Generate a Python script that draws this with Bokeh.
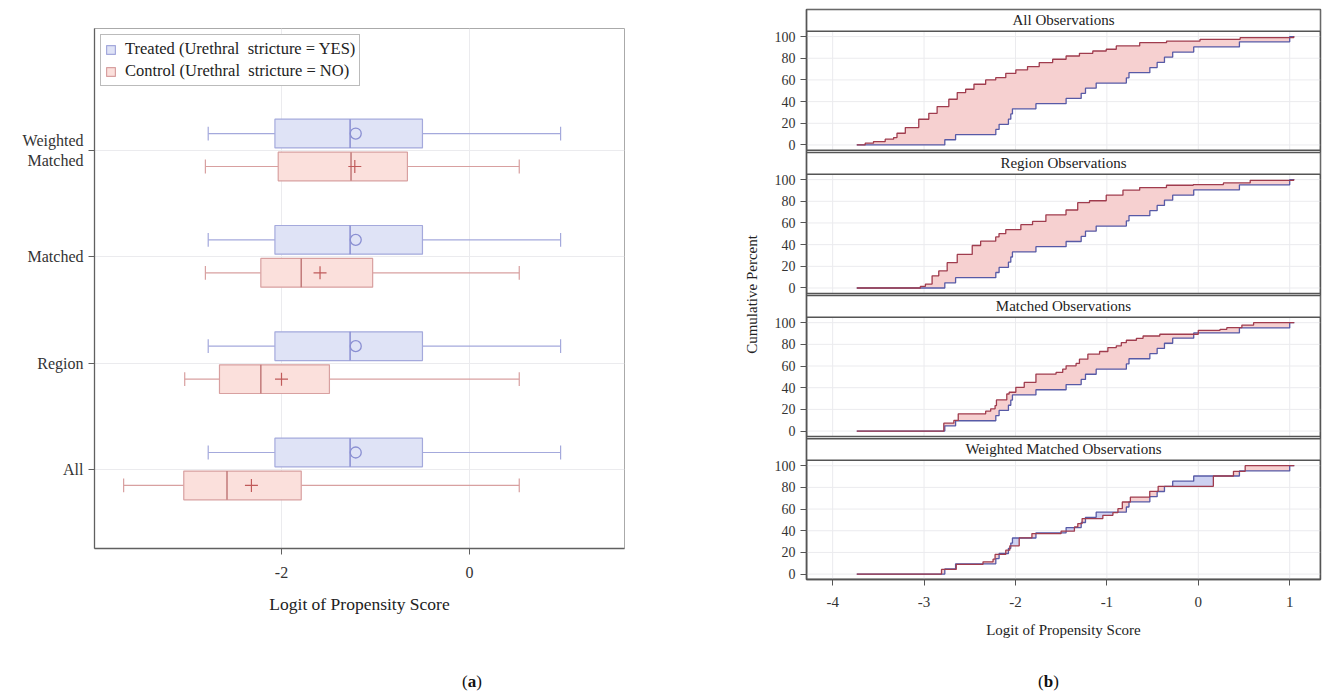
import numpy as np
from bokeh.plotting import figure
from bokeh.models import Range1d, FixedTicker, Legend, LegendItem, Div
from bokeh.layouts import row, column
from bokeh.embed import file_html
from bokeh.resources import INLINE
from bokeh.core.properties import value

SERIF = "Liberation Serif"

# ---------------- (a) box-plot summaries: All, Region, Matched, Weighted Matched ----------------
groups = ["All", "Region", "Matched", "Weighted\nMatched"]
trt_lo = [-2.78, -2.78, -2.78, -2.78]
trt_q1 = [-2.07, -2.07, -2.07, -2.07]
trt_med = [-1.27, -1.27, -1.27, -1.27]
trt_mean = [-1.21, -1.21, -1.21, -1.21]
trt_q3 = [-0.50, -0.50, -0.50, -0.50]
trt_hi = [0.97, 0.97, 0.97, 0.97]
ctl_lo = [-3.68, -3.03, -2.81, -2.81]
ctl_q1 = [-3.04, -2.66, -2.22, -2.035]
ctl_med = [-2.58, -2.22, -1.79, -1.26]
ctl_mean = [-2.32, -2.00, -1.59, -1.22]
ctl_q3 = [-1.79, -1.49, -1.03, -0.66]
ctl_hi = [0.53, 0.53, 0.53, 0.53]
legend_labels = ["Treated (Urethral  stricture = YES)", "Control (Urethral  stricture = NO)"]
x_ticks_a = [-2, 0]

# ---------------- (b) cumulative distributions ----------------
panel_titles = ["All Observations", "Region Observations", "Matched Observations",
                "Weighted Matched Observations"]
x_start, x_end = -3.736, 1.05
trt_x = [-2.773, -2.655, -2.215, -2.179, -2.077, -2.051, -2.033, -1.776, -1.446, -1.281, -1.234,
         -1.117, -0.787, -0.758, -0.530, -0.450, -0.370, -0.280, -0.050, 0.450, 1.000]
trt_y = [4.8, 9.5, 14.3, 19.0, 23.8, 28.6, 33.3, 38.1, 42.9, 47.6, 52.4,
         57.1, 61.9, 66.7, 71.4, 76.2, 81.0, 85.7, 90.5, 95.2, 100.0]
ctl_all_x = [-3.644, -3.553, -3.425, -3.333, -3.296, -3.205, -3.058, -2.948, -2.857, -2.729, -2.637,
             -2.545, -2.454, -2.326, -2.216, -2.106, -1.996, -1.868, -1.740, -1.593, -1.446, -1.300,
             -1.154, -1.007, -0.897, -0.641, -0.347, 0.019, 0.458, 1.044]
ctl_all_y = [1.6, 3.1, 5.3, 6.8, 10.8, 16.0, 23.7, 29.2, 35.4, 42.2, 48.3,
             51.4, 56.0, 60.0, 62.1, 66.1, 69.2, 72.3, 76.0, 79.1, 82.1, 84.6,
             86.7, 88.3, 91.4, 94.4, 95.9, 97.5, 99.0, 100.0]
ctl_region_x = [-3.040, -2.985, -2.912, -2.839, -2.747, -2.637, -2.473, -2.381, -2.216, -2.180, -2.106,
                -1.941, -1.813, -1.667, -1.447, -1.319, -1.190, -1.007, -0.824, -0.641, -0.348,
                -0.055, 0.275, 0.568, 1.044]
ctl_region_y = [1.5, 3.6, 11.2, 15.8, 23.4, 31.0, 39.2, 43.2, 47.1, 50.2, 53.8,
                58.4, 61.4, 67.5, 72.0, 78.7, 80.5, 85.7, 90.3, 92.7, 94.8,
                95.4, 97.0, 99.4, 100.0]
ctl_matched_x = [-2.784, -2.674, -2.626, -2.326, -2.271, -2.223, -2.208, -2.095, -2.069, -1.996, -1.904,
                 -1.776, -1.556, -1.483, -1.446, -1.337, -1.300, -1.208, -1.080, -0.989, -0.897,
                 -0.842, -0.787, -0.677, -0.604, -0.421, 0.000, 0.238, 0.312, 0.477, 0.605]
ctl_matched_y = [7.3, 9.8, 15.9, 18.3, 20.5, 23.5, 28.7, 34.2, 35.8, 40.3, 44.9,
                 52.6, 54.1, 57.2, 60.2, 62.4, 66.3, 70.9, 73.4, 77.0, 78.6,
                 81.6, 83.8, 85.6, 87.7, 89.3, 92.9, 93.9, 95.4, 97.8, 100.0]
ctl_weighted_x = [-2.809, -2.648, -2.355, -2.245, -2.223, -2.106, -2.062, -1.959, -1.820, -1.501, -1.355,
                  -1.318, -1.271, -1.044, -0.934, -0.879, -0.831, -0.743, -0.531, -0.439, 0.165,
                  0.385, 0.513]
ctl_weighted_y = [4.3, 9.0, 11.3, 13.8, 18.1, 22.1, 26.1, 33.4, 37.4, 39.6, 43.5,
                  46.6, 51.2, 54.2, 56.7, 60.4, 66.5, 71.1, 76.4, 81.0, 90.5,
                  94.8, 100.0]
ctl_panels = [(ctl_all_x, ctl_all_y), (ctl_region_x, ctl_region_y),
              (ctl_matched_x, ctl_matched_y), (ctl_weighted_x, ctl_weighted_y)]
pct_ticks = [0, 20, 40, 60, 80, 100]
x_ticks_b = [-4, -3, -2, -1, 0, 1]

# ---------------- styles ----------------
T_FILL, T_LINE, T_MED = "#dfe3f6", "#a4a9dc", "#8a8fd2"
C_FILL, C_LINE, C_MED = "#fbe0dc", "#d8a0a0", "#c27a7a"
RED_FILL, BLUE_FILL = "#f6d0d0", "#cdd1f1"
T_STEP, C_STEP = "#575aa6", "#a03c4e"
GRID = "#ebebee"

# ================= panel (a) =================
pa = figure(width=700, height=648, x_range=Range1d(-3.99, 1.65), y_range=Range1d(-0.743, 4.148),
            output_backend="svg", toolbar_location=None,
            min_border_left=94, min_border_right=76, min_border_top=28, min_border_bottom=100,
            outline_line_color="#aaaaaa", outline_line_width=1)
pos = np.arange(len(groups), dtype=float)
hh, cap = 0.135, 0.065
renderers = []
for lo, q1, med, q3, hi, yy, fill, line, medc in [
        (trt_lo, trt_q1, trt_med, trt_q3, trt_hi, pos + 0.16, T_FILL, T_LINE, T_MED),
        (ctl_lo, ctl_q1, ctl_med, ctl_q3, ctl_hi, pos - 0.15, C_FILL, C_LINE, C_MED)]:
    pa.segment(x0=lo, y0=yy, x1=q1, y1=yy, line_color=line, line_width=1.2)
    pa.segment(x0=q3, y0=yy, x1=hi, y1=yy, line_color=line, line_width=1.2)
    pa.segment(x0=lo, y0=yy - cap, x1=lo, y1=yy + cap, line_color=line, line_width=1.2)
    pa.segment(x0=hi, y0=yy - cap, x1=hi, y1=yy + cap, line_color=line, line_width=1.2)
    r = pa.quad(left=q1, right=q3, bottom=yy - hh, top=yy + hh, fill_color=fill,
                line_color=line, line_width=1.2)
    renderers.append(r)
    pa.segment(x0=med, y0=yy - hh, x1=med, y1=yy + hh, line_color=medc, line_width=1.5)
pa.scatter(x=trt_mean, y=pos + 0.16, marker="circle", size=11, fill_color=None,
           line_color=T_MED, line_width=1.3)
pa.scatter(x=ctl_mean, y=pos - 0.15, marker="cross", size=13, line_color="#c05a5a", line_width=1.2)

leg = Legend(items=[LegendItem(label=legend_labels[0], renderers=[renderers[0]]),
                    LegendItem(label=legend_labels[1], renderers=[renderers[1]])],
             location="top_left", margin=6, padding=4, spacing=2,
             label_text_font=SERIF, label_text_font_size="16.5px", label_text_color="#222222",
             glyph_width=11, glyph_height=11, label_height=20, label_standoff=9,
             border_line_color="#777777", background_fill_alpha=1.0)
pa.add_layout(leg)

pa.xaxis.ticker = FixedTicker(ticks=x_ticks_a)
pa.xaxis.major_label_overrides = {t: str(t) for t in x_ticks_a}
pa.yaxis.ticker = FixedTicker(ticks=list(range(len(groups))))
pa.yaxis.major_label_overrides = {i: g for i, g in enumerate(groups)}
pa.xaxis.axis_label = "Logit of Propensity Score"
for ax in (pa.xaxis[0], pa.yaxis[0]):
    ax.axis_line_color = "#606060"
    ax.axis_line_width = 1.3
    ax.major_tick_line_color = "#606060"
    ax.major_tick_in = 0
    ax.major_tick_out = 6
    ax.minor_tick_line_color = None
    ax.major_label_text_font = SERIF
    ax.major_label_text_font_size = "16px"
    ax.major_label_text_color = "#333333"
    ax.axis_label_text_font = SERIF
    ax.axis_label_text_font_size = "17.5px"
    ax.axis_label_text_font_style = "normal"
    ax.axis_label_text_color = "#222222"
pa.xaxis.major_label_standoff = 12
pa.xaxis.axis_label_standoff = 13
pa.yaxis.major_label_standoff = 5
pa.xgrid.grid_line_color = GRID
pa.ygrid.grid_line_color = GRID

# ================= panel (b) =================
pb = figure(width=625, height=648, x_range=Range1d(-4.286, 1.337), y_range=Range1d(-5, 521),
            output_backend="svg", toolbar_location=None,
            min_border_left=106, min_border_right=5, min_border_top=9, min_border_bottom=69,
            outline_line_color="#555555", outline_line_width=1.5)
pb.xgrid.visible = False
pb.ygrid.visible = False
xr0, xr1 = pb.x_range.start, pb.x_range.end
offsets = [396, 264, 132, 0]
t_xs = np.array([x_start] + trt_x + [x_end])
t_ys = np.array([0.0] + trt_y + [trt_y[-1]])


def step_eval(xs, ys, g):
    idx = np.searchsorted(xs, g, side="right") - 1
    return ys[np.clip(idx, 0, None)]


for k, off in enumerate(offsets):
    pb.segment(x0=x_ticks_b, y0=[off - 5] * len(x_ticks_b), x1=x_ticks_b, y1=[off + 105] * len(x_ticks_b),
               line_color=GRID, line_width=1)
    pb.segment(x0=[xr0] * len(pct_ticks), y0=[off + v for v in pct_ticks],
               x1=[xr1] * len(pct_ticks), y1=[off + v for v in pct_ticks], line_color=GRID, line_width=1)
    cx, cy = ctl_panels[k]
    c_xs = np.array([x_start] + cx + [x_end])
    c_ys = np.array([0.0] + cy + [cy[-1]])
    g = np.unique(np.concatenate([t_xs, c_xs]))
    tv = step_eval(t_xs, t_ys, g)
    cv = step_eval(c_xs, c_ys, g)
    px, pt, pc = [], [], []
    for i in range(len(g) - 1):
        px += [g[i], g[i + 1]]
        pt += [tv[i], tv[i]]
        pc += [cv[i], cv[i]]
    px, pt, pc = np.array(px), np.array(pt), np.array(pc)
    pb.varea(x=px, y1=pt + off, y2=np.maximum(pc, pt) + off, fill_color=RED_FILL)
    pb.varea(x=px, y1=pc + off, y2=np.maximum(pt, pc) + off, fill_color=BLUE_FILL)
    pb.step(x=t_xs, y=t_ys + off, mode="after", line_color=T_STEP, line_width=1.3)
    pb.step(x=c_xs, y=c_ys + off, mode="after", line_color=C_STEP, line_width=1.3)
    pb.quad(left=[xr0], right=[xr1], bottom=[off - 5], top=[off + 105], fill_color=None,
            line_color="#555555", line_width=1.5)
    pb.quad(left=[xr0], right=[xr1], bottom=[off + 105], top=[off + 125], fill_color="white",
            line_color="#555555", line_width=1.5)
    pb.text(x=[(xr0 + xr1) / 2], y=[off + 115], text=[panel_titles[k]], text_font=value(SERIF),
            text_font_size="15px", text_align="center", text_baseline="middle", text_color="#222222")

yt = [off + v for off in offsets for v in pct_ticks]
pb.yaxis.ticker = FixedTicker(ticks=yt)
pb.yaxis.major_label_overrides = {off + v: str(v) for off in offsets for v in pct_ticks}
pb.xaxis.ticker = FixedTicker(ticks=x_ticks_b)
pb.xaxis.major_label_overrides = {t: str(t) for t in x_ticks_b}
pb.xaxis.axis_label = "Logit of Propensity Score"
pb.yaxis.axis_label = "Cumulative Percent"
for ax in (pb.xaxis[0], pb.yaxis[0]):
    ax.axis_line_color = "#555555"
    ax.axis_line_width = 1.3
    ax.major_tick_line_color = "#555555"
    ax.major_tick_in = 0
    ax.major_tick_out = 6
    ax.minor_tick_line_color = None
    ax.major_label_text_font = SERIF
    ax.major_label_text_font_size = "15px"
    ax.major_label_text_color = "#333333"
    ax.axis_label_text_font = SERIF
    ax.axis_label_text_font_size = "15px"
    ax.axis_label_text_font_style = "normal"
    ax.axis_label_text_color = "#222222"
pb.yaxis.major_label_text_font_size = "14px"
pb.xaxis.major_label_standoff = 11
pb.xaxis.axis_label_standoff = 12
pb.yaxis.major_label_standoff = 5
pb.yaxis.axis_label_standoff = 12

# ================= sub-figure labels =================
lab_style = "position:absolute;top:22px;font-family:'Liberation Serif';font-size:17px;color:#111;"
div_a = Div(text=f'<div style="position:relative;width:700px;height:45px;">'
                 f'<span style="{lab_style}left:462px;">(<b>a</b>)</span></div>',
            width=700, height=45, margin=0)
div_b = Div(text=f'<div style="position:relative;width:625px;height:45px;">'
                 f'<span style="{lab_style}left:338px;">(<b>b</b>)</span></div>',
            width=625, height=45, margin=0)

layout = row(column(pa, div_a), column(pb, div_b))
open("out.html", "w").write(file_html(layout, INLINE))
